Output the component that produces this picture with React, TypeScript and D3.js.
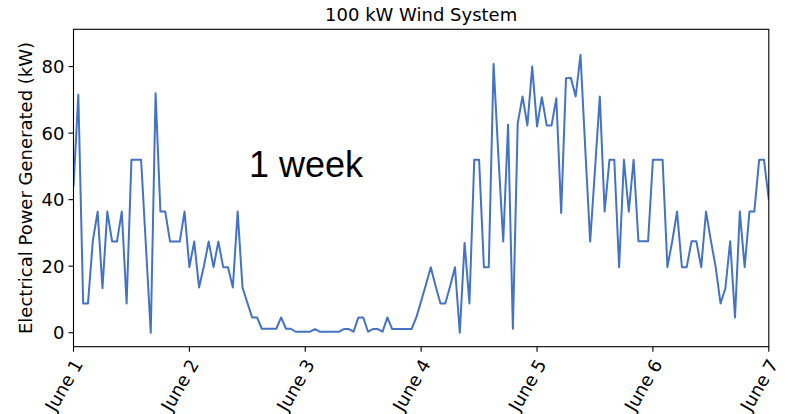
import React from "react";
import * as d3 from "d3";

const title = "100 kW Wind System";
const yLabel = "Electrical Power Generated (kW)";
const annotation = "1 week";
const dayLabels = ["June 1", "June 2", "June 3", "June 4", "June 5", "June 6", "June 7"];
const yTicks = [0, 20, 40, 60, 80];
// hourly electrical power (kW), starting June 1 00:00
const power = [
  44, 71.5, 8.8, 8.8, 27.6, 36.4, 13.4, 36.4, 27.4, 27.4, 36.4, 8.8,
  52, 52, 52, 26, 0, 72, 36.4, 36.4, 27.4, 27.4, 27.4, 36.4,
  19.7, 27.4, 13.6, 20, 27.4, 19.7, 27.4, 19.7, 19.7, 13.6, 36.4, 13.6,
  9, 4.6, 4.6, 1.2, 1.2, 1.2, 1.2, 4.6, 1.2, 1.2, 0.3, 0.3,
  0.3, 0.3, 1.1, 0.3, 0.3, 0.3, 0.3, 0.3, 1.1, 1.1, 0.3, 4.6,
  4.6, 0.3, 1.1, 1.1, 0.3, 4.6, 1.1, 1.1, 1.1, 1.1, 1.1, 4.6,
  9.5, 14.5, 19.7, 14, 8.8, 8.8, 14, 19.7, 0, 27, 8.8, 52,
  52, 19.7, 19.7, 80.8, 53, 27.4, 62.5, 1.2, 63, 71, 62.3, 80,
  62, 70.8, 62.3, 62.3, 70.5, 36, 76.5, 76.6, 71, 83.5, 55, 27.4,
  49, 71, 36.4, 52, 52, 19.7, 52, 36.4, 52, 27.5, 27.5, 27.5,
  52, 52, 52, 19.7, 27.5, 36.4, 19.7, 19.7, 27.5, 27.5, 19.7, 36.4,
  27.7, 19.7, 8.8, 13.3, 27.5, 4.6, 36.4, 19.7, 36.4, 36.4, 52, 52,
  40,
];

const W = 792;
const H = 414;
const left = 73.5;
const right = 768.8;
const top = 29.3;
const bottom = 346.7;
const font = "'DejaVu Sans', sans-serif";

export default function App() {
  const x = d3.scaleLinear().domain([0, 144]).range([left, right]);
  const y = d3.scaleLinear().domain([-4.2, 91.2]).range([bottom, top]);
  const line = d3
    .line<number>()
    .x((_, i) => x(i))
    .y((d) => y(d));
  const dayTicks = dayLabels.map((_, i) => i * 24);

  return (
    <div style={{ position: "absolute", left: 0, top: 0 }}>
      <svg width={W} height={H} style={{ display: "block", background: "#fff" }}>
        <defs>
          <clipPath id="plotClip">
            <rect x={left} y={top} width={right - left} height={bottom - top} />
          </clipPath>
        </defs>
        <text x={(left + right) / 2} y={21} textAnchor="middle" fontFamily={font} fontSize={18} fill="#000">
          {title}
        </text>
        <path
          d={line(power) || ""}
          fill="none"
          stroke="#4472c4"
          strokeWidth={2}
          strokeLinejoin="round"
          clipPath="url(#plotClip)"
        />
        <rect x={left} y={top} width={right - left} height={bottom - top} fill="none" stroke="#000" strokeWidth={1.1} />
        {yTicks.map((t) => (
          <g key={t}>
            <line x1={left - 5} x2={left} y1={y(t)} y2={y(t)} stroke="#000" strokeWidth={1.1} />
            <text x={left - 9} y={y(t)} dy="0.36em" textAnchor="end" fontFamily={font} fontSize={18} fill="#000">
              {t}
            </text>
          </g>
        ))}
        {dayTicks.map((t, i) => (
          <g key={t}>
            <line x1={x(t)} x2={x(t)} y1={bottom} y2={bottom + 5} stroke="#000" strokeWidth={1.1} />
            <text
              transform={`translate(${x(t) + 10},${364}) rotate(-60)`}
              textAnchor="end"
              fontFamily={font}
              fontSize={18}
              fill="#000"
            >
              {dayLabels[i]}
            </text>
          </g>
        ))}
        <text
          transform={`translate(32,${(top + bottom) / 2}) rotate(-90)`}
          textAnchor="middle"
          fontFamily={font}
          fontSize={18}
          fill="#000"
        >
          {yLabel}
        </text>
        <text x={249} y={177} fontFamily="'Liberation Sans', Arial, sans-serif" fontSize={36} fill="#000">
          {annotation}
        </text>
      </svg>
    </div>
  );
}
